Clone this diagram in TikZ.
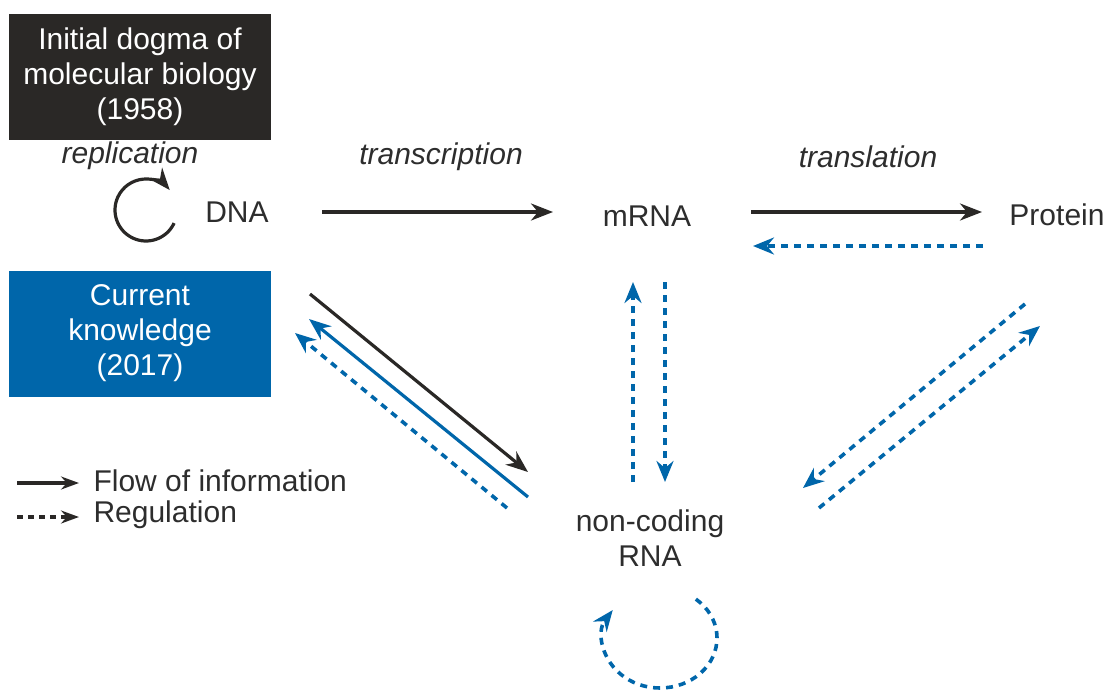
\documentclass[tikz,border=0pt]{standalone}
\usepackage{fontspec}
\setmainfont{Liberation Sans}
\usetikzlibrary{arrows.meta}

\definecolor{dogmadark}{RGB}{42,40,38}
\definecolor{dogmablue}{RGB}{0,102,170}
\definecolor{dogmatext}{RGB}{45,45,45}

\begin{document}
\begin{tikzpicture}[x=1pt,y=-1pt,font=\fontsize{30}{35}\selectfont,text=dogmatext,
    flow/.style={-{Stealth[length=22pt,width=17pt,inset=7pt]},line width=3.2pt,dogmadark},
    flowblue/.style={flow,dogmablue},
    reg/.style={-{Stealth[length=21pt,width=17pt,inset=7pt]},line width=3.6pt,dogmablue,
      dash pattern=on 7pt off 6pt},
    era/.style={minimum width=262pt,minimum height=126pt,align=center,text=white,inner sep=0pt},
    process/.style={font=\fontsize{30}{35}\selectfont\itshape}]
  \useasboundingbox (0,0) rectangle (1120,689);

  % the two eras
  \node[era,fill=dogmadark] (old) at (140,76.5) {Initial dogma of\\molecular biology\\(1958)};
  \node[era,fill=dogmablue] (now) at (140,333.5) {Current\\knowledge\\(2017)};

  % molecules
  \node (dna) at (237,212) {DNA};
  \node (mrna) at (647,216) {mRNA};
  \node (protein) at (1057,215) {Protein};
  \node[align=center] (ncrna) at (650,538) {non-coding\\RNA};

  \node[process] (repl) at (130,156) {replication};
  \node[process] (transc) at (441,157) {transcription};
  \node[process] (transl) at (868,157) {translation};

  % arrow ends
  \foreach \n/\x/\y in {dm0/322/212, dm1/553/212, mp0/751/212, mp1/982/212,
      pm0/983/246, pm1/753/246,
      dn0/310/294, dn1/528/472, nd0/528/497, nd1/309/319, ndr0/507/508, ndr1/295/333,
      nm0/633/482, nm1/633/282, mn0/665/282, mn1/665/482,
      pn0/1025/304, pn1/803/488, np0/819/508, np1/1040/326,
      lf0/17/483, lf1/79/483, lr0/17/517, lr1/79/517} {
    \coordinate (\n) at (\x,\y);
  }

  % information flow
  \draw[flow] (dm0) -- (dm1);
  \draw[flow] (mp0) -- (mp1);
  \draw[flow] (dn0) -- (dn1);
  \draw[flowblue] (nd0) -- (nd1);
  \draw[flow] (146,210) ++(25:31) arc[start angle=25,end angle=320,radius=31];

  % regulation
  \draw[reg] (pm0) -- (pm1);
  \draw[reg] (ndr0) -- (ndr1);
  \draw[reg] (nm0) -- (nm1);
  \draw[reg] (mn0) -- (mn1);
  \draw[reg] (pn0) -- (pn1);
  \draw[reg] (np0) -- (np1);
  \draw[reg] (660,638) ++(-51:57 and 50) arc[start angle=-51,end angle=214,x radius=57,y radius=50];

  % legend
  \draw[flow,-{Stealth[length=18pt,width=13pt,inset=6pt]}] (lf0) -- (lf1);
  \draw[reg,dogmadark,-{Stealth[length=18pt,width=13pt,inset=6pt]},dash pattern=on 6pt off 5pt]
    (lr0) -- (lr1);
  \node[anchor=west] (lflow) at (90,481) {Flow of information};
  \node[anchor=west] (lreg) at (90,515) {Regulation};
\end{tikzpicture}
\end{document}
